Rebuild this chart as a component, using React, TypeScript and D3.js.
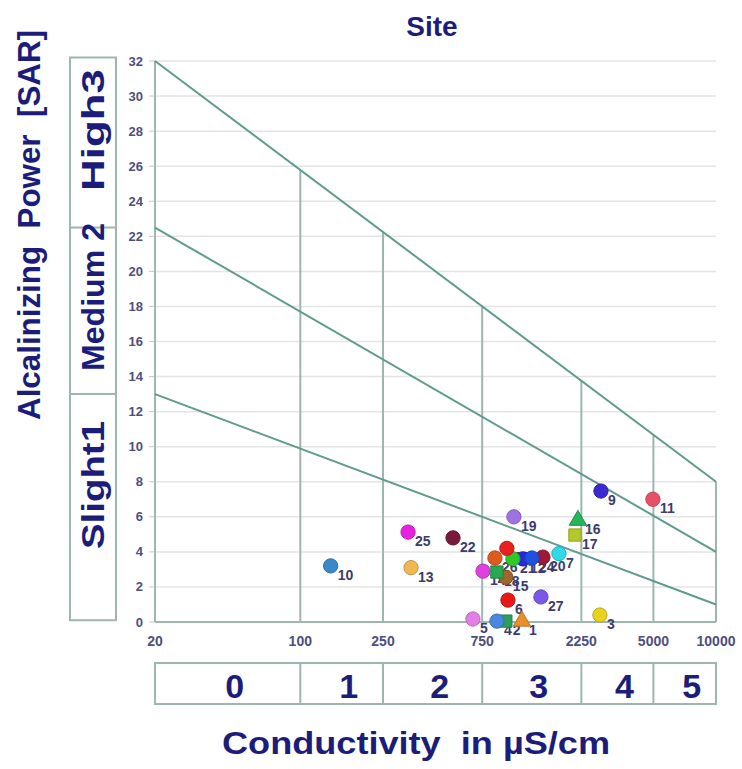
import React from 'react';
import * as d3 from 'd3';

// sites in the Richards-type diagram
const sites = ['1', '2', '3', '4', '5', '6', '7', '9', '10', '11', '12', '13', '14', '15', '16', '17', '18', '19', '20', '21', '22', '23', '24', '25', '26', '27'];
const conductivity = [1165, 975, 2763, 883, 677, 998, 1755, 2795, 140, 4971, 1178, 341, 757, 975, 2166, 2096, 883, 1066, 1470, 1054, 543, 986, 1301, 330, 864, 1438];
const sar = [0.05, 0.05, 0.4, 0.05, 0.17, 1.25, 3.9, 7.47, 3.2, 7.0, 3.6, 3.1, 2.9, 2.55, 5.8, 4.96, 2.85, 6.0, 3.7, 3.6, 4.8, 4.2, 3.65, 5.13, 3.65, 1.43];
const colors = ['#e8902a', '#2ca05a', '#e8d21e', '#4a86e0', '#e27ee6', '#e81818', '#30d8e8', '#3a2ad0', '#3a88cc', '#e8506a', '#2828e0', '#f0b850', '#e040e0', '#a0642c', '#28b45a', '#b4c828', '#28a850', '#a070e8', '#a01838', '#30c828', '#7a1a3a', '#e82020', '#2050e0', '#e820e0', '#e05a20', '#7a58e8'];
const shapes = ['triangle', 'square', 'circle', 'circle', 'circle', 'circle', 'circle', 'circle', 'circle', 'circle', 'circle', 'circle', 'circle', 'circle', 'triangle', 'square', 'square', 'circle', 'circle', 'circle', 'circle', 'circle', 'circle', 'circle', 'circle', 'circle'];

const xTicks = [20, 100, 250, 750, 2250, 5000, 10000];
const yTicks = [0, 2, 4, 6, 8, 10, 12, 14, 16, 18, 20, 22, 24, 26, 28, 30, 32];
const conductivityClasses = ['0', '1', '2', '3', '4', '5'];
const sarClasses = ['Slight1', 'Medium 2', 'High3'];
// class boundary lines: SAR at 20 µS/cm and at 10000 µS/cm
const lineStart = [13, 22.5, 32];
const lineEnd = [1, 4, 8];

const W = 742, H = 769;
const font = '"Liberation Sans", Arial, sans-serif';
const navy = '#1c1c7a';
const boxStroke = '#9db6ae';
const lineColor = '#5f9a8e';

export default function App() {
  const x = d3.scaleLog().domain([20, 10000]).range([155, 716]);
  const y = d3.scaleLinear().domain([0, 32]).range([622, 61]);

  // SAR of boundary line i at conductivity c (straight in log-x)
  const boundary = (i: number, c: number) => {
    const t = (Math.log10(c) - Math.log10(20)) / (Math.log10(10000) - Math.log10(20));
    return lineStart[i] + (lineEnd[i] - lineStart[i]) * t;
  };

  const sym = (s: string) => {
    const type = s === 'triangle' ? d3.symbolTriangle : s === 'square' ? d3.symbolSquare : d3.symbolCircle;
    const size = s === 'triangle' ? 130 : s === 'square' ? 150 : 160;
    return d3.symbol().type(type).size(size)()!;
  };

  const sarBounds = [0.1, lineStart[0], lineStart[1], 32.2];
  const sarCenters = [485, 297, 130];
  const sarLengths = [128, 148, 122];

  return (
    <svg width={W} height={H} style={{ position: 'absolute', left: 0, top: 0, background: '#fff' }} fontFamily={font}>
      {/* horizontal grid */}
      {yTicks.map(t => (
        <g key={'gy' + t}>
          <line x1={155} x2={716} y1={y(t)} y2={y(t)} stroke="#e4e4e4" strokeWidth={1.5} />
          <line x1={149} x2={155} y1={y(t)} y2={y(t)} stroke="#c8c8c8" />
          <text x={143} y={y(t)} dy="0.35em" textAnchor="end" fontSize={13} fontWeight="bold" fill="#4e4e7e">{t}</text>
        </g>
      ))}
      {/* vertical class lines up to the top boundary */}
      {xTicks.slice(1).map(t => (
        <line key={'gx' + t} x1={x(t)} x2={x(t)} y1={y(0)} y2={y(boundary(2, t))} stroke={boxStroke} strokeWidth={2} />
      ))}
      <line x1={155} x2={155} y1={y(0)} y2={y(32)} stroke={boxStroke} strokeWidth={2} />
      <line x1={155} x2={716} y1={y(0)} y2={y(0)} stroke={boxStroke} strokeWidth={2} />
      {/* SAR class boundaries */}
      {lineStart.map((s, i) => (
        <line key={'b' + i} x1={x(20)} y1={y(s)} x2={x(10000)} y2={y(lineEnd[i])} stroke={lineColor} strokeWidth={2} />
      ))}
      {xTicks.map(t => (
        <text key={'xt' + t} x={x(t)} y={646} textAnchor="middle" fontSize={14} fontWeight="bold" fill="#4e4e7e">{t}</text>
      ))}

      {/* point labels then points */}
      {sites.map((s, i) => (
        <text key={'l' + s} x={x(conductivity[i]) + 7} y={y(sar[i]) + 14} fontSize={14} fontWeight="bold" fill="#3c3c6e">{s}</text>
      ))}
      {sites.map((s, i) => (
        <path key={'p' + s} d={sym(shapes[i])} transform={`translate(${x(conductivity[i])},${y(sar[i])})`}
          fill={colors[i]} stroke={d3.color(colors[i])!.darker(0.6).formatHex()} strokeWidth={1} />
      ))}

      {/* left SAR class boxes */}
      <rect x={70} y={y(32.2)} width={46} height={y(0.1) - y(32.2)} fill="none" stroke={boxStroke} strokeWidth={2} />
      {sarBounds.slice(1, 3).map(b => (
        <line key={'sb' + b} x1={70} x2={116} y1={y(b)} y2={y(b)} stroke={boxStroke} strokeWidth={2} />
      ))}
      {sarClasses.map((c, i) => (
        <text key={c} transform={`translate(104,${sarCenters[i]}) rotate(-90)`} textAnchor="middle" fontSize={31} fontWeight="bold" fill={navy}
          textLength={sarLengths[i]} lengthAdjust="spacingAndGlyphs">{c}</text>
      ))}

      {/* bottom conductivity class boxes */}
      <rect x={x(20)} y={663} width={x(10000) - x(20)} height={41} fill="none" stroke={boxStroke} strokeWidth={2} />
      {xTicks.slice(1, -1).map(t => (
        <line key={'cb' + t} x1={x(t)} x2={x(t)} y1={663} y2={704} stroke={boxStroke} strokeWidth={2} />
      ))}
      {conductivityClasses.map((c, i) => (
        <text key={'cc' + c} x={(x(xTicks[i]) + x(xTicks[i + 1])) / 2 + 7} y={698} textAnchor="middle" fontSize={34} fontWeight="bold" fill={navy}>{c}</text>
      ))}

      {/* titles */}
      <text x={432} y={36} textAnchor="middle" fontSize={28} fontWeight="bold" fill={navy}>Site</text>
      <text x={416} y={754} textAnchor="middle" fontSize={32} fontWeight="bold" fill={navy} xmlSpace="preserve"
        textLength={388} lengthAdjust="spacingAndGlyphs">Conductivity  in µS/cm</text>
      <text transform="translate(40,225) rotate(-90)" textAnchor="middle" fontSize={31} fontWeight="bold" fill={navy} xmlSpace="preserve"
        textLength={390} lengthAdjust="spacingAndGlyphs">Alcalinizing  Power  [SAR]</text>
    </svg>
  );
}
